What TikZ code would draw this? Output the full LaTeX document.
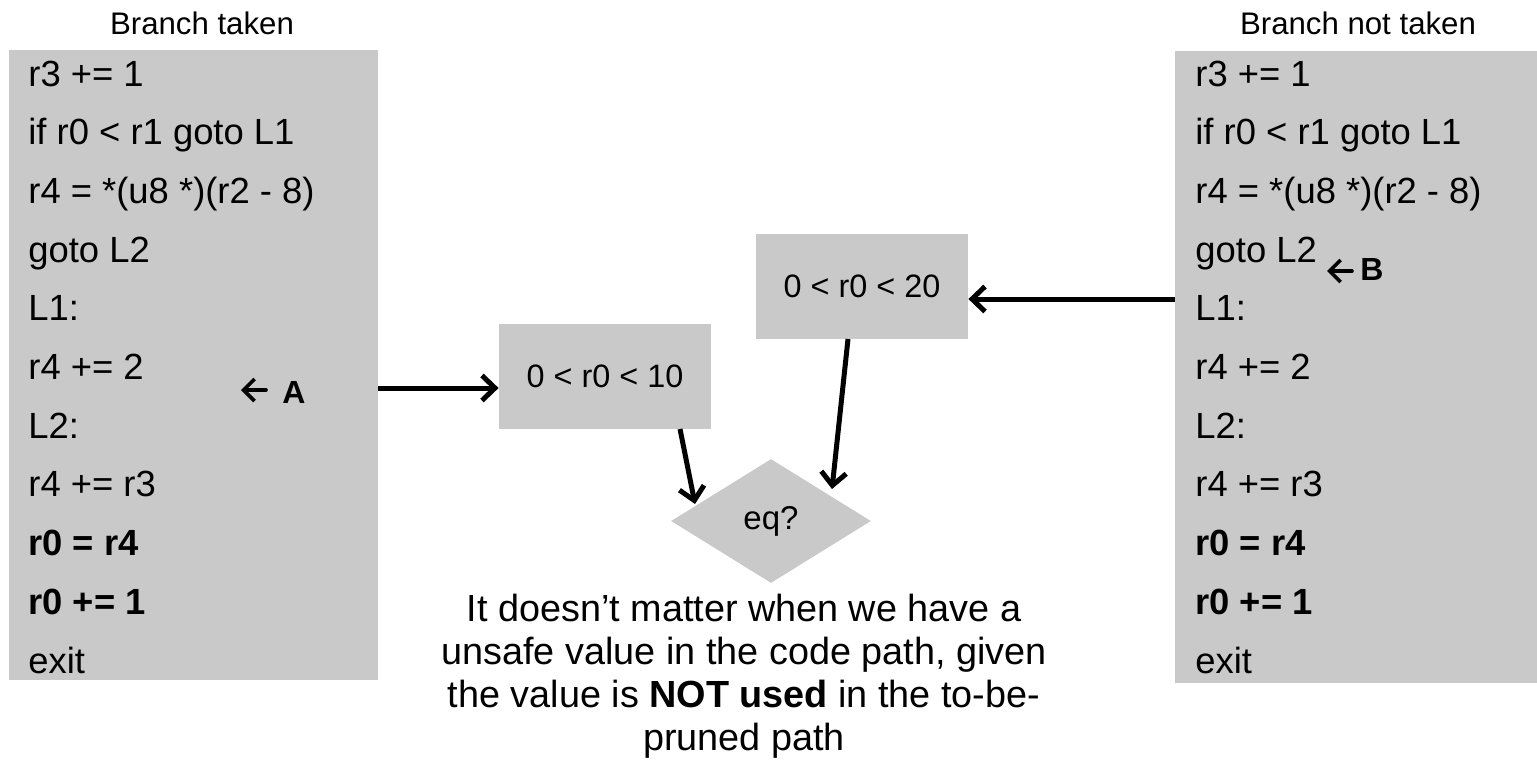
\documentclass[tikz,border=0pt]{standalone}
\usepackage{fontspec}
\setmainfont{Liberation Sans}
\usetikzlibrary{arrows.meta,shapes.geometric}
\definecolor{boxgray}{RGB}{201,201,201}

\begin{document}
\begin{tikzpicture}[x=0.5pt,y=-0.5pt,
  codebox/.style={fill=boxgray,draw=none,inner sep=0pt},
  code/.style={anchor=base west,inner sep=0pt,font=\fontsize{18.2}{21}\selectfont},
  heading/.style={anchor=base,inner sep=0pt,font=\fontsize{15.6}{18}\selectfont},
  rangebox/.style={fill=boxgray,inner sep=0pt,minimum width=106pt,minimum height=52.5pt,
    font=\fontsize{16.2}{19}\selectfont},
  decision/.style={diamond,fill=boxgray,inner sep=0pt,minimum width=100pt,minimum height=62pt,
    font=\fontsize{16.5}{19}\selectfont},
  pointer/.style={anchor=base west,inner sep=0pt,font=\fontsize{16}{19}\selectfont\bfseries},
  pointerarrow/.style={line width=1.8pt,line cap=round,-{Straight Barb[length=5.5pt,width=11pt]}},
  flow/.style={line width=2.5pt,-{Straight Barb[length=6.5pt,width=12.5pt]}},
  note/.style={align=center,inner sep=0pt,font=\fontsize{18.9}{21.5}\selectfont}
]
\useasboundingbox (0,0) rectangle (1537,762);

% code listings
\node[codebox,minimum width=184.5pt,minimum height=315pt] (lbox) at (193.5,365) {};
\node[codebox,minimum width=181pt,minimum height=316pt] (rbox) at (1356,367) {};

\node[heading] (ltitle) at (202,34) {Branch taken};
\node[heading] (rtitle) at (1358,34) {Branch not taken};

\foreach \t [count=\i] in {r3 += 1, if r0 < r1 goto L1, r4 = *(u8 *)(r2 - 8), goto L2, L1:,
    r4 += 2, L2:, r4 += r3, {\bfseries r0 = r4}, {\bfseries r0 += 1}, exit} {
  \node[code] (L\i) at (28,{86+58.7*(\i-1)}) {\t};
  \node[code] (R\i) at (1195,{86+58.7*(\i-1)}) {\t};
}

% markers for the two program points
\node[pointer] (pa) at (282,403) {A};
\node[pointer] (pb) at (1360,280) {B};
\coordinate (pa-tail) at (266,390);
\coordinate (pa-head) at (241,390);
\coordinate (pb-tail) at (1352,271);
\coordinate (pb-head) at (1327,271);
\draw[pointerarrow] (pa-tail) -- (pa-head);
\draw[pointerarrow] (pb-tail) -- (pb-head);

% value ranges and the comparison
\node[rangebox] (r10) at (605,376.5) {0 < r0 < 10};
\node[rangebox] (r20) at (862,286) {0 < r0 < 20};
\node[decision] (eq) at (771,521) {eq?};

\coordinate (ya) at (0,388);
\coordinate (yb) at (0,299);
\coordinate (s1) at (680,429);
\coordinate (t1) at (695,504);
\coordinate (s2) at (848,339);
\coordinate (t2) at (832,489);

\draw[flow] (lbox.east |- ya) -- (r10.west |- ya);
\draw[flow] (rbox.west |- yb) -- (r20.east |- yb);
\draw[flow] (s1) -- (t1);
\draw[flow] (s2) -- (t2);

\node[note] (msg) at (744,676) {It doesn’t matter when we have a\\
  unsafe value in the code path, given\\
  the value is \textbf{NOT used} in the to-be-\\
  pruned path};
\end{tikzpicture}
\end{document}
